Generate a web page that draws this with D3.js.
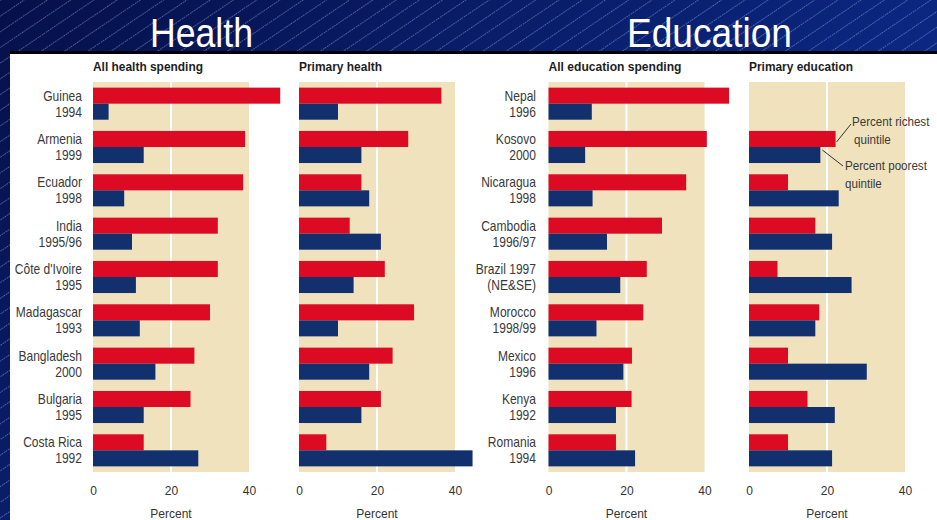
<!DOCTYPE html>
<html>
<head>
<meta charset="utf-8">
<script src="https://cdn.jsdelivr.net/npm/d3@7/dist/d3.min.js"></script>
<style>
  html, body { margin: 0; padding: 0; background: #0a1a60; }
  svg { display: block; }
</style>
</head>
<body>
<svg id="chart" width="937" height="520"></svg>
<script>
// Spending shares: richest vs poorest quintile
const healthCountries = ["Guinea", "Armenia", "Ecuador", "India", "Côte d'Ivoire", "Madagascar", "Bangladesh", "Bulgaria", "Costa Rica"];
const healthYears = ["1994", "1999", "1998", "1995/96", "1995", "1993", "2000", "1995", "1992"];
const allHealthRich = [48, 39, 38.5, 32, 32, 30, 26, 25, 13];
const allHealthPoor = [4, 13, 8, 10, 11, 12, 16, 13, 27];
const primaryHealthRich = [36.5, 28, 16, 13, 22, 29.5, 24, 21, 7];
const primaryHealthPoor = [10, 16, 18, 21, 14, 10, 18, 16, 44.5];

const eduCountries = ["Nepal", "Kosovo", "Nicaragua", "Cambodia", "Brazil 1997", "Morocco", "Mexico", "Kenya", "Romania"];
const eduYears = ["1996", "2000", "1998", "1996/97", "(NE&SE)", "1998/99", "1996", "1992", "1994"];
const allEduRich = [46.3, 40.6, 35.3, 29.1, 25.2, 24.3, 21.4, 21.3, 17.3];
const allEduPoor = [11.1, 9.4, 11.3, 15, 18.4, 12.3, 19.2, 17.3, 22.2];
const primaryEduRich = [null, 22.2, 10, 17, 7.3, 18, 10, 15, 10];
const primaryEduPoor = [null, 18.3, 23, 21.3, 26.3, 17, 30.2, 22, 21.3];

const xTicks = [0, 20, 40];
const sectionTitles = ["Health", "Education"];
const panelTitles = ["All health spending", "Primary health", "All education spending", "Primary education"];
const seriesKeys = ["rich", "poor"];
const axisLabel = "Percent";

const W = 937, H = 520;
const svg = d3.select("#chart");
const defs = svg.append("defs");

// Slide background: navy gradient with fine diagonal hatching
const grad = defs.append("linearGradient").attr("id", "bg")
  .attr("x1", "0").attr("y1", "0").attr("x2", "1").attr("y2", "0.6");
grad.append("stop").attr("offset", "0%").attr("stop-color", "#06104a");
grad.append("stop").attr("offset", "55%").attr("stop-color", "#0a2172");
grad.append("stop").attr("offset", "100%").attr("stop-color", "#0b2e92");

const hatch = defs.append("pattern").attr("id", "hatch")
  .attr("patternUnits", "userSpaceOnUse")
  .attr("width", 30).attr("height", 13)
  .attr("patternTransform", "rotate(-34)");
hatch.append("line").attr("x1", 0).attr("y1", 0.5).attr("x2", 30).attr("y2", 0.5)
  .attr("stroke", "rgba(160,180,240,0.65)").attr("stroke-width", 0.8)
  .attr("stroke-dasharray", "1.5,1");

svg.append("rect").attr("width", W).attr("height", H).attr("fill", "url(#bg)");
svg.append("rect").attr("width", W).attr("height", H).attr("fill", "url(#hatch)");

// White sheet holding the four panels
svg.append("rect").attr("x", 10).attr("y", 53).attr("width", W - 10).attr("height", H - 53).attr("fill", "#ffffff");
svg.append("rect").attr("x", 10).attr("y", 51).attr("width", W - 10).attr("height", 3).attr("fill", "#000000");

// Section headings
const headFont = "'Liberation Sans Narrow', 'Liberation Sans', Arial, sans-serif";
const heads = [{ t: sectionTitles[0], x: 150, w: 103 }, { t: sectionTitles[1], x: 627, w: 165 }];
svg.selectAll("text.head").data(heads).join("text")
  .attr("class", "head")
  .attr("x", d => d.x).attr("y", 47)
  .attr("textLength", d => d.w).attr("lengthAdjust", "spacingAndGlyphs")
  .attr("fill", "#ffffff")
  .style("font-family", headFont).style("font-size", "40px")
  .text(d => d.t);

// Panel geometry
const bandTop = 82, bandBottom = 472;
const colours = { rich: "#dc0a23", poor: "#12306e", beige: "#efe2bd" };
const labelFont = "'Liberation Sans', Arial, sans-serif";

const panels = [
  { title: panelTitles[0], x0: 93, rich: allHealthRich, poor: allHealthPoor, titleW: 110 },
  { title: panelTitles[1], x0: 299, rich: primaryHealthRich, poor: primaryHealthPoor, titleW: 83 },
  { title: panelTitles[2], x0: 548.5, rich: allEduRich, poor: allEduPoor, titleW: 133 },
  { title: panelTitles[3], x0: 749, rich: primaryEduRich, poor: primaryEduPoor, titleW: 104 }
];

const y = d3.scaleBand().domain(d3.range(9)).range([bandTop, bandBottom])
  .paddingInner(0.26).paddingOuter(0.13);
const ySeries = d3.scaleBand().domain(seriesKeys).range([0, y.bandwidth()]);

panels.forEach(p => {
  const x = d3.scaleLinear().domain([0, 40]).range([p.x0, p.x0 + 156]);
  const g = svg.append("g");

  g.append("rect").attr("x", x(0)).attr("y", bandTop)
    .attr("width", x(40) - x(0)).attr("height", bandBottom - bandTop)
    .attr("fill", colours.beige);
  g.append("line").attr("x1", x(20)).attr("x2", x(20))
    .attr("y1", bandTop).attr("y2", bandBottom)
    .attr("stroke", "#ffffff").attr("stroke-width", 2);

  g.append("text").attr("x", p.x0).attr("y", 71)
    .attr("textLength", p.titleW).attr("lengthAdjust", "spacingAndGlyphs")
    .attr("fill", "#1e1e1e").style("font-family", labelFont)
    .style("font-size", "12.5px").style("font-weight", "bold")
    .text(p.title);

  const rows = d3.range(9).map(i => ({ i, rich: p.rich[i], poor: p.poor[i] }));
  const grp = g.selectAll("g.row").data(rows).join("g")
    .attr("transform", d => `translate(0,${y(d.i)})`);
  grp.selectAll("rect").data(d => seriesKeys.filter(k => d[k] != null).map(k => ({ k, v: d[k] })))
    .join("rect")
    .attr("x", x(0)).attr("y", d => ySeries(d.k))
    .attr("width", d => x(d.v) - x(0)).attr("height", ySeries.bandwidth())
    .attr("fill", d => colours[d.k]);

  const axis = d3.axisBottom(x).tickValues(xTicks).tickSize(0).tickPadding(0).tickFormat(d3.format("d"));
  const ax = g.append("g").attr("transform", "translate(0,491)").call(axis);
  ax.select(".domain").remove();
  ax.selectAll("text").attr("fill", "#333").attr("dy", "0.32em")
    .style("font-family", labelFont).style("font-size", "12px");

  g.append("text").attr("x", x(20)).attr("y", 518).attr("text-anchor", "middle")
    .attr("fill", "#333").style("font-family", labelFont).style("font-size", "12px")
    .text(axisLabel);
});

// Category labels (country on the red bar, year on the blue bar)
function categoryLabels(names, years, xRight) {
  const rows = d3.range(9).map(i => ({ i, name: names[i], year: years[i] }));
  const g = svg.append("g");
  rows.forEach(d => {
    const top = y(d.i);
    [[d.name, top + ySeries("rich") + ySeries.bandwidth() / 2],
     [d.year, top + ySeries("poor") + ySeries.bandwidth() / 2]].forEach(([t, cy]) => {
      g.append("text")
        .attr("transform", `translate(${xRight},${cy}) scale(0.86,1)`)
        .attr("text-anchor", "end").attr("dy", "0.36em")
        .attr("fill", "#3a3a3a").style("font-family", labelFont).style("font-size", "14px")
        .text(t);
    });
  });
}
categoryLabels(healthCountries, healthYears, 82);
categoryLabels(eduCountries, eduYears, 536);

// Series callouts on the primary education panel
const xPE = d3.scaleLinear().domain([0, 40]).range([749, 905]);
const r1 = y(1);
const callouts = [
  { lines: ["Percent richest", "quintile"], tx: 852, ty: 126, dx2: [0, 2],
    from: [xPE(primaryEduRich[1]) + 1, r1 + ySeries("rich") + 11], to: [851, 124] },
  { lines: ["Percent poorest", "quintile"], tx: 845, ty: 170, dx2: [0, 0],
    from: [xPE(primaryEduPoor[1]) + 2, r1 + ySeries("poor") + 3], to: [843, 166] }
];
callouts.forEach(c => {
  svg.append("line").attr("x1", c.from[0]).attr("y1", c.from[1])
    .attr("x2", c.to[0]).attr("y2", c.to[1])
    .attr("stroke", "#333").attr("stroke-width", 1);
  c.lines.forEach((t, j) => {
    svg.append("text")
      .attr("transform", `translate(${c.tx + c.dx2[j]},${c.ty + j * 18}) scale(0.86,1)`)
      .attr("fill", "#3a3a3a").style("font-family", labelFont).style("font-size", "13.5px")
      .text(t);
  });
});
</script>
</body>
</html>
